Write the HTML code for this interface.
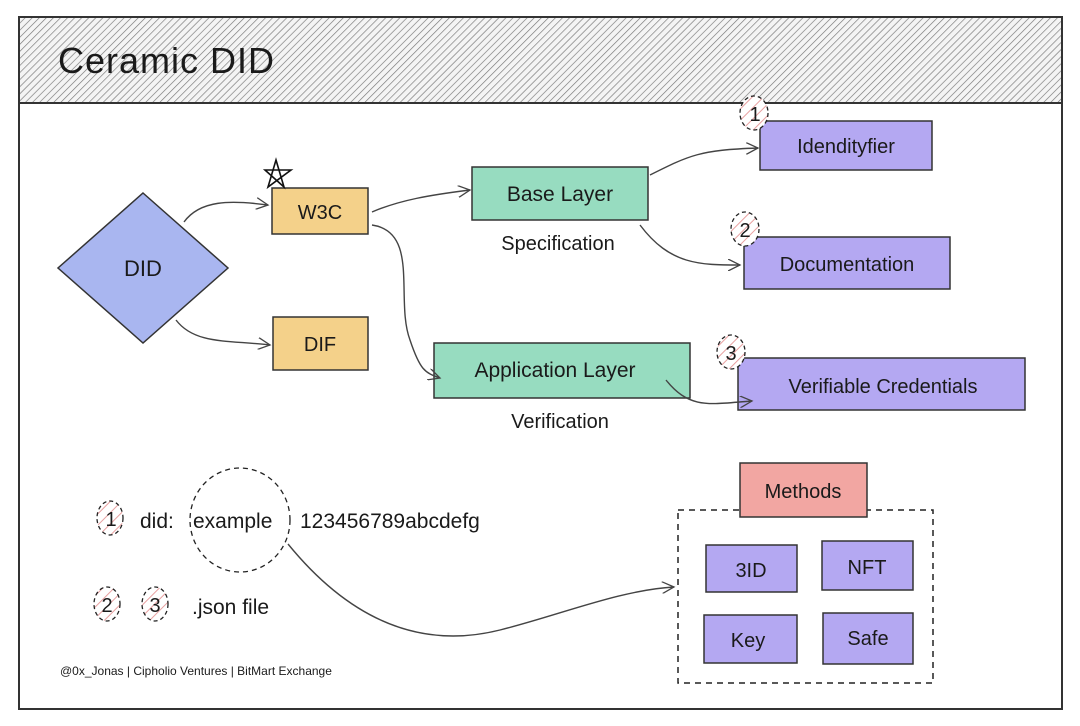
<!DOCTYPE html>
<html><head><meta charset="utf-8"><style>
html,body{margin:0;padding:0;background:#fff;}
svg{display:block;}
text{font-family:"Liberation Sans",sans-serif;fill:#1a1a1a;}
</style></head><body>
<svg width="1080" height="726" viewBox="0 0 1080 726" xmlns="http://www.w3.org/2000/svg">
<defs>
<pattern id="hatch" width="5" height="5" patternUnits="userSpaceOnUse" patternTransform="rotate(45)">
<rect width="5" height="5" fill="#f4f4f4"/><line x1="0" y1="0" x2="0" y2="5" stroke="#777" stroke-width="1.3"/>
</pattern>
<pattern id="phatch" width="8" height="8" patternUnits="userSpaceOnUse" patternTransform="rotate(45)">
<rect width="8" height="8" fill="#fff"/><line x1="0" y1="0" x2="0" y2="8" stroke="#e8a0a0" stroke-width="2"/>
</pattern>
<marker id="ar" markerWidth="14" markerHeight="12" refX="12" refY="6" orient="auto" markerUnits="userSpaceOnUse">
<path d="M0,0 L12,6 L0,12" fill="none" stroke="#444" stroke-width="1.3"/>
</marker>
</defs>
<!-- frame -->
<rect x="19" y="17" width="1043" height="692" fill="#fff" stroke="#333" stroke-width="2"/>
<rect x="19" y="17" width="1043" height="86" fill="url(#hatch)" stroke="#333" stroke-width="2"/>
<text x="58" y="73" font-size="36" letter-spacing="1">Ceramic DID</text>

<!-- DID diamond -->
<polygon points="143,193 228,268 143,343 58,268" fill="#a9b6f0" stroke="#333" stroke-width="1.5"/>
<text x="143" y="276" font-size="22" text-anchor="middle">DID</text>

<!-- W3C -->
<rect x="272" y="188" width="96" height="46" fill="#f4d18a" stroke="#333" stroke-width="1.5"/>
<text x="320" y="219" font-size="20" text-anchor="middle">W3C</text>
<path d="M265,170 L291,170 L268,187 L276,160 L284,187 Z" fill="none" stroke="#111" stroke-width="1.6"/>
<!-- DIF -->
<rect x="273" y="317" width="95" height="53" fill="#f4d18a" stroke="#333" stroke-width="1.5"/>
<text x="320" y="351" font-size="20" text-anchor="middle">DIF</text>

<!-- Base Layer -->
<rect x="472" y="167" width="176" height="53" fill="#97dcc0" stroke="#333" stroke-width="1.5"/>
<text x="560" y="201" font-size="21" text-anchor="middle">Base Layer</text>
<text x="558" y="250" font-size="20" text-anchor="middle">Specification</text>

<!-- Application Layer -->
<rect x="434" y="343" width="256" height="55" fill="#97dcc0" stroke="#333" stroke-width="1.5"/>
<text x="555" y="377" font-size="21" text-anchor="middle">Application Layer</text>
<text x="560" y="428" font-size="20" text-anchor="middle">Verification</text>

<!-- purple boxes -->
<rect x="760" y="121" width="172" height="49" fill="#b4a8f2" stroke="#333" stroke-width="1.5"/>
<text x="846" y="153" font-size="20" text-anchor="middle">Idendityfier</text>
<rect x="744" y="237" width="206" height="52" fill="#b4a8f2" stroke="#333" stroke-width="1.5"/>
<text x="847" y="271" font-size="20" text-anchor="middle">Documentation</text>
<rect x="738" y="358" width="287" height="52" fill="#b4a8f2" stroke="#333" stroke-width="1.5"/>
<text x="883" y="393" font-size="20" text-anchor="middle">Verifiable Credentials</text>

<!-- connectors -->
<g fill="none" stroke="#444" stroke-width="1.4">
<path d="M184,222 C200,200 230,200 268,205" marker-end="url(#ar)"/>
<path d="M176,320 C195,345 230,340 270,345" marker-end="url(#ar)"/>
<path d="M372,212 C400,200 430,195 470,190" marker-end="url(#ar)"/>
<path d="M372,225 C420,232 395,300 410,340 C420,370 425,373 440,378" marker-end="url(#ar)"/>
<path d="M650,175 C690,155 700,150 758,148" marker-end="url(#ar)"/>
<path d="M640,225 C670,265 700,265 740,265" marker-end="url(#ar)"/>
<path d="M666,380 C690,410 710,404 752,401" marker-end="url(#ar)"/>
<path d="M288,544 C350,620 420,650 500,630 C560,615 620,590 674,587" marker-end="url(#ar)"/>
</g>

<!-- numbered circles -->
<g stroke="#222" stroke-width="1.3" stroke-dasharray="4,3" fill="url(#phatch)">
<ellipse cx="754" cy="113" rx="14" ry="17"/>
<ellipse cx="745" cy="229" rx="14" ry="17"/>
<ellipse cx="731" cy="352" rx="14" ry="17"/>
<ellipse cx="110" cy="518" rx="13" ry="17"/>
<ellipse cx="107" cy="604" rx="13" ry="17"/>
<ellipse cx="155" cy="604" rx="13" ry="17"/>
</g>
<g font-size="20" text-anchor="middle">
<text x="755" y="121">1</text>
<text x="745" y="237">2</text>
<text x="731" y="360">3</text>
<text x="111" y="526">1</text>
<text x="107" y="612">2</text>
<text x="155" y="612">3</text>
</g>

<!-- did line -->
<ellipse cx="240" cy="520" rx="50" ry="52" fill="none" stroke="#222" stroke-width="1.3" stroke-dasharray="5,4"/>
<text x="140" y="528" font-size="21">did:</text>
<text x="193" y="528" font-size="21">example</text>
<text x="300" y="528" font-size="21">123456789abcdefg</text>
<text x="192" y="614" font-size="21">.json file</text>
<text x="60" y="675" font-size="12">@0x_Jonas | Cipholio Ventures | BitMart Exchange</text>

<!-- methods -->
<rect x="678" y="510" width="255" height="173" fill="none" stroke="#222" stroke-width="1.5" stroke-dasharray="6,5"/>
<rect x="740" y="463" width="127" height="54" fill="#f2a6a2" stroke="#333" stroke-width="1.5"/>
<text x="803" y="498" font-size="20" text-anchor="middle">Methods</text>
<rect x="706" y="545" width="91" height="47" fill="#b4a8f2" stroke="#333" stroke-width="1.5"/>
<text x="751" y="577" font-size="20" text-anchor="middle">3ID</text>
<rect x="822" y="541" width="91" height="49" fill="#b4a8f2" stroke="#333" stroke-width="1.5"/>
<text x="867" y="574" font-size="20" text-anchor="middle">NFT</text>
<rect x="704" y="615" width="93" height="48" fill="#b4a8f2" stroke="#333" stroke-width="1.5"/>
<text x="748" y="647" font-size="20" text-anchor="middle">Key</text>
<rect x="823" y="613" width="90" height="51" fill="#b4a8f2" stroke="#333" stroke-width="1.5"/>
<text x="868" y="645" font-size="20" text-anchor="middle">Safe</text>
</svg>
</body></html>
